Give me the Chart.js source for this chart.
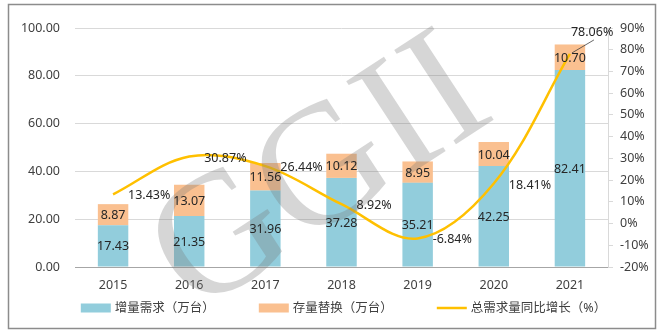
<!DOCTYPE html>
<html>
<head>
<meta charset="utf-8">
<script src="https://cdn.jsdelivr.net/npm/chart.js@4.4.1/dist/chart.umd.min.js"></script>
<style>
  html, body { margin: 0; padding: 0; background: #ffffff; }
  #wrap { width: 666px; height: 334px; }
</style>
</head>
<body>
<div id="wrap"><canvas id="demandChart" width="666" height="334"></canvas></div>
<script>
const years = ["2015", "2016", "2017", "2018", "2019", "2020", "2021"];
const newDemand = [17.43, 21.35, 31.96, 37.28, 35.21, 42.25, 82.41];
const replacement = [8.87, 13.07, 11.56, 10.12, 8.95, 10.04, 10.70];
const growthRate = [13.43, 30.87, 26.44, 8.92, -6.84, 18.41, 78.06];
const seriesNames = ["增量需求（万台）", "存量替换（万台）", "总需求量同比增长（%）"];
const watermarkText = "GGII";

const FONT = '"Noto Sans", "Noto Sans CJK SC", sans-serif';
const TEXT = "#262626";
const BLUE = "#92CDDC";
const ORANGE = "#FAC090";
const GOLD = "#FFC000";

// frame, watermark, value labels and legend
const decorPlugin = {
  id: "decor",
  beforeDraw(chart) {
    const ctx = chart.ctx;
    ctx.save();
    ctx.fillStyle = "#ffffff";
    ctx.fillRect(0, 0, chart.width, chart.height);
    ctx.restore();
  },
  afterDatasetsDraw(chart) {
    const ctx = chart.ctx;

    // watermark
    ctx.save();
    ctx.translate(322, 178);
    ctx.rotate(-0.58);
    ctx.font = '172px "Liberation Serif", serif';
    ctx.fillStyle = "rgba(120,120,120,0.30)";
    ctx.textAlign = "center";
    ctx.textBaseline = "middle";
    ctx.fillText(watermarkText, 0, 0);
    ctx.restore();

    ctx.save();
    ctx.font = "12.5px " + FONT;
    ctx.fillStyle = TEXT;
    ctx.textBaseline = "middle";

    // stacked bar values
    [0, 1].forEach((di) => {
      const meta = chart.getDatasetMeta(di);
      const values = chart.data.datasets[di].data;
      ctx.textAlign = "center";
      meta.data.forEach((bar, i) => {
        ctx.fillText(values[i].toFixed(2), bar.x, (bar.y + bar.base) / 2 + 1);
      });
    });

    // growth values to the right of each point
    const lineMeta = chart.getDatasetMeta(2);
    ctx.textAlign = "left";
    lineMeta.data.forEach((pt, i) => {
      const txt = growthRate[i].toFixed(2) + "%";
      if (i === growthRate.length - 1) {
        ctx.fillText(txt, pt.x + 1, pt.y - 22);
        ctx.strokeStyle = "#404040";
        ctx.lineWidth = 0.8;
        ctx.beginPath();
        ctx.moveTo(pt.x + 2, pt.y - 1);
        ctx.lineTo(pt.x + 24, pt.y - 14);
        ctx.stroke();
      } else {
        ctx.fillText(txt, pt.x + 15, pt.y + 1.5);
      }
    });
    ctx.restore();
  },
  afterDraw(chart) {
    const ctx = chart.ctx;
    const area = chart.chartArea;

    // legend row
    ctx.save();
    ctx.font = "12.5px " + FONT;
    ctx.textBaseline = "middle";
    ctx.textAlign = "left";
    ctx.fillStyle = "#404040";
    const swatch = 30;
    const gap = 4;
    const spacing = 44;
    const widths = seriesNames.map((n) => swatch + gap + ctx.measureText(n).width);
    const total = widths.reduce((a, b) => a + b, 0) + spacing * (widths.length - 1);
    let x = (area.left + area.right) / 2 - total / 2 + 2;
    const y = 308;
    seriesNames.forEach((name, i) => {
      if (i < 2) {
        ctx.fillStyle = i === 0 ? BLUE : ORANGE;
        ctx.fillRect(x, y - 4.5, swatch, 9);
      } else {
        ctx.strokeStyle = GOLD;
        ctx.lineWidth = 2.5;
        ctx.beginPath();
        ctx.moveTo(x, y);
        ctx.lineTo(x + swatch, y);
        ctx.stroke();
      }
      ctx.fillStyle = "#404040";
      ctx.fillText(name, x + swatch + gap, y);
      x += widths[i] + spacing;
    });

    // outer frame
    ctx.strokeStyle = "#8c8c8c";
    ctx.lineWidth = 1.5;
    ctx.strokeRect(8.5, 4.5, 647, 324);
    ctx.restore();
  },
};

new Chart(document.getElementById("demandChart"), {
  type: "bar",
  data: {
    labels: years,
    datasets: [
      {
        label: seriesNames[0],
        data: newDemand,
        backgroundColor: BLUE,
        stack: "total",
        order: 1,
        yAxisID: "y",
      },
      {
        label: seriesNames[1],
        data: replacement,
        backgroundColor: ORANGE,
        stack: "total",
        order: 1,
        yAxisID: "y",
      },
      {
        type: "line",
        label: seriesNames[2],
        data: growthRate,
        borderColor: GOLD,
        borderWidth: 2.5,
        pointRadius: 0,
        tension: 0.35,
        order: 0,
        yAxisID: "y1",
      },
    ],
  },
  options: {
    responsive: false,
    animation: false,
    devicePixelRatio: 1,
    layout: {
      padding: { top: 28, left: 0, right: 0, bottom: 30 },
    },
    datasets: {
      bar: {
        barPercentage: 0.5,
        categoryPercentage: 0.8,
      },
    },
    plugins: {
      legend: { display: false },
      tooltip: { enabled: false },
    },
    scales: {
      x: {
        stacked: true,
        grid: { display: false, drawTicks: false },
        border: { display: true, color: "#a6a6a6", width: 1 },
        ticks: {
          padding: 11,
          color: "#404040",
          font: { family: FONT, size: 12.5 },
        },
      },
      y: {
        stacked: true,
        min: 0,
        max: 100,
        position: "left",
        afterFit: (scale) => {
          scale.width = 75;
        },
        grid: { color: "#d9d9d9", drawTicks: false },
        border: { display: false },
        ticks: {
          stepSize: 20,
          padding: 15,
          color: "#404040",
          font: { family: FONT, size: 12.5 },
          callback: (v) => v.toFixed(2),
        },
      },
      y1: {
        min: -20,
        max: 90,
        position: "right",
        afterFit: (scale) => {
          scale.width = 58;
        },
        grid: {
          drawOnChartArea: false,
          color: "#d9d9d9",
          tickLength: 5,
        },
        border: { display: true, color: "#d9d9d9", width: 1 },
        ticks: {
          stepSize: 10,
          padding: 7,
          color: "#404040",
          font: { family: FONT, size: 12.5 },
          callback: (v) => v + "%",
        },
      },
    },
  },
  plugins: [decorPlugin],
});
</script>
</body>
</html>
